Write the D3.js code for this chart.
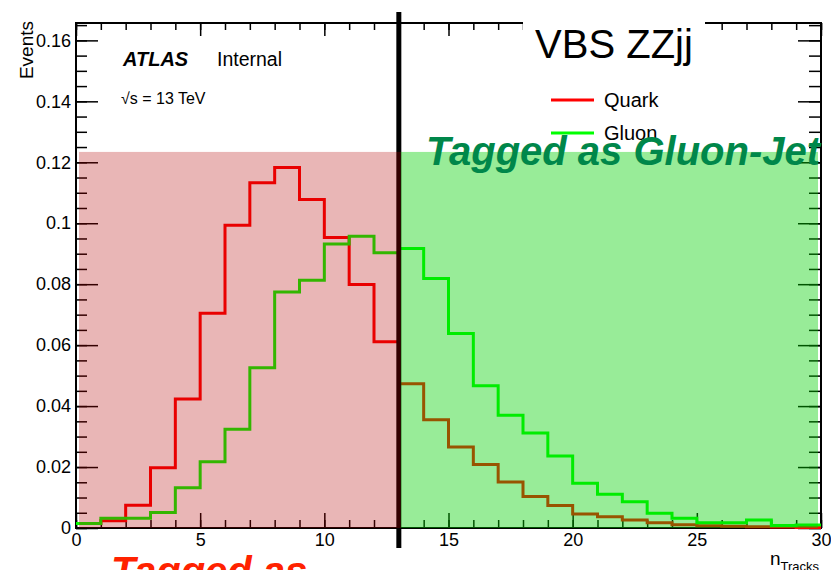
<!DOCTYPE html>
<html>
<head>
<meta charset="utf-8">
<script src="https://cdn.jsdelivr.net/npm/d3@7"></script>
<style>
  body { margin: 0; background: #fff; }
  text { font-family: "Liberation Sans", Arial, Helvetica, sans-serif; }
</style>
</head>
<body>
<div id="chart"></div>
<script>
// n_Tracks distributions, one value per bin of width 1 from 0 to 30
const quark = [0.0015, 0.0024, 0.0075, 0.0198, 0.0423, 0.0705, 0.0993, 0.1133, 0.1183, 0.1078,
               0.0953, 0.0799, 0.0611, 0.0473, 0.0355, 0.0266, 0.0208, 0.0151, 0.0103, 0.0074,
               0.0046, 0.0037, 0.0026, 0.0017, 0.0011, 0.0007, 0.0006, 0.0004, 0.0003, 0.0002]
const gluon = [0.0015, 0.0032, 0.0032, 0.0051, 0.0132, 0.0217, 0.0324, 0.0526, 0.0774, 0.0813,
               0.0932, 0.0957, 0.0903, 0.0917, 0.0819, 0.0638, 0.0467, 0.0370, 0.0312, 0.0236,
               0.0147, 0.0111, 0.0086, 0.0048, 0.0032, 0.0017, 0.0017, 0.0026, 0.0008, 0.0010]
const xTicks = [0, 5, 10, 15, 20, 25, 30]
const yTicks = [0, 0.02, 0.04, 0.06, 0.08, 0.1, 0.12, 0.14, 0.16]
const cut = 13          // tagging threshold
const bandTop = 0.1234  // height of the shaded bands
const series = [
  { name: "Quark", values: quark, color: "#ff0000" },
  { name: "Gluon", values: gluon, color: "#00ff00" },
]

const width = 831
const height = 570
const plotLeft = 76, plotRight = 821, plotTop = 23, plotBottom = 528

const x = d3.scaleLinear().domain([0, 30]).range([plotLeft, plotRight])
const y = d3.scaleLinear().domain([0, 0.1657]).range([plotBottom, plotTop])

const svg = d3.select("#chart")
  .append("svg")
  .attr("width", width)
  .attr("height", height)

// axes: minor ticks first, then majors with labels
const yFmt = d => String(+d.toFixed(2))

svg.append("g")
  .attr("transform", `translate(${plotLeft} 0)`)
  .call(d3.axisLeft(y).tickValues(d3.range(0, 0.166, 0.005)).tickSizeInner(-11).tickSizeOuter(0).tickFormat(""))
svg.append("g")
  .attr("class", "y-axis")
  .attr("transform", `translate(${plotLeft} 0)`)
  .call(d3.axisLeft(y).tickValues(yTicks).tickSizeInner(-22).tickSizeOuter(0).tickPadding(5).tickFormat(yFmt))

svg.append("g")
  .attr("transform", `translate(${plotRight} 0)`)
  .call(d3.axisRight(y).tickValues(d3.range(0, 0.166, 0.005)).tickSizeInner(-12).tickSizeOuter(0).tickFormat(""))
svg.append("g")
  .attr("transform", `translate(${plotRight} 0)`)
  .call(d3.axisRight(y).tickValues(yTicks).tickSizeInner(-23).tickSizeOuter(0).tickFormat(""))

svg.append("g")
  .attr("transform", `translate(0 ${plotBottom})`)
  .call(d3.axisBottom(x).ticks(30).tickSizeInner(-8).tickSizeOuter(0).tickFormat(""))
svg.append("g")
  .attr("class", "x-axis")
  .attr("transform", `translate(0 ${plotBottom})`)
  .call(d3.axisBottom(x).tickValues(xTicks).tickSizeInner(-15).tickSizeOuter(0).tickPadding(5).tickFormat(d3.format("d")))

svg.append("g")
  .attr("transform", `translate(0 ${plotTop})`)
  .call(d3.axisTop(x).ticks(30).tickSizeInner(-7).tickSizeOuter(0).tickFormat(""))
svg.append("g")
  .attr("transform", `translate(0 ${plotTop})`)
  .call(d3.axisTop(x).tickValues(xTicks).tickSizeInner(-13).tickSizeOuter(0).tickFormat(""))

svg.selectAll(".domain").remove()
svg.selectAll(".tick line").attr("stroke", "#000").attr("stroke-width", 1.5)
svg.selectAll(".y-axis text, .x-axis text")
  .attr("font-size", 18)
  .attr("fill", "#000")
  .attr("font-family", "Liberation Sans, Arial, sans-serif")

// frame
svg.append("rect")
  .attr("x", plotLeft).attr("y", plotTop)
  .attr("width", plotRight - plotLeft).attr("height", plotBottom - plotTop)
  .attr("fill", "none").attr("stroke", "#000").attr("stroke-width", 2)

// histograms (step lines)
const line = d3.line()
  .x(d => x(d[0]))
  .y(d => y(d[1]))
  .curve(d3.curveStepAfter)

svg.append("g")
  .selectAll("path")
  .data(series)
  .join("path")
  .attr("d", d => line(d.values.map((v, i) => [i, v]).concat([[30, d.values[d.values.length - 1]]])))
  .attr("fill", "none")
  .attr("stroke", d => d.color)
  .attr("stroke-width", 3)

// cut line
svg.append("line")
  .attr("x1", x(cut)).attr("x2", x(cut))
  .attr("y1", 12).attr("y2", 548)
  .attr("stroke", "#000").attr("stroke-width", 5)

// shaded tagging bands drawn over the histograms
svg.append("rect")
  .attr("x", x(0) + 3).attr("y", y(bandTop))
  .attr("width", x(cut) - x(0) - 1).attr("height", y(0) - y(bandTop))
  .attr("fill", "rgb(178,0,0)").attr("fill-opacity", 0.286)
svg.append("rect")
  .attr("x", x(cut) + 2).attr("y", y(bandTop))
  .attr("width", x(30) - x(cut) - 5).attr("height", y(0) - y(bandTop))
  .attr("fill", "rgb(0,208,0)").attr("fill-opacity", 0.404)

// title box covering the top frame
svg.append("rect")
  .attr("x", 523).attr("y", 8).attr("width", 182).attr("height", 62)
  .attr("fill", "#fff")
svg.append("text")
  .attr("x", 614).attr("y", 58)
  .attr("text-anchor", "middle")
  .attr("font-size", 40)
  .text("VBS ZZjj")

// ATLAS label
svg.append("text")
  .attr("x", 123).attr("y", 66)
  .attr("font-size", 20).attr("font-weight", "bold").attr("font-style", "italic")
  .text("ATLAS")
svg.append("text")
  .attr("x", 217).attr("y", 66)
  .attr("font-size", 19.5)
  .text("Internal")
svg.append("text")
  .attr("x", 121).attr("y", 104)
  .attr("font-size", 16)
  .text("\u221As = 13 TeV")

// legend
const legend = svg.append("g")
  .selectAll("g")
  .data(series)
  .join("g")
  .attr("transform", (d, i) => `translate(551 ${100 + i * 33})`)
legend.append("line")
  .attr("x1", 0).attr("x2", 43)
  .attr("stroke", d => d.color).attr("stroke-width", 3)
legend.append("text")
  .attr("x", 53).attr("y", 7)
  .attr("font-size", 20)
  .text(d => d.name)

// axis titles
svg.append("text")
  .attr("transform", "translate(33 21) rotate(-90)")
  .attr("text-anchor", "end")
  .attr("font-size", 19)
  .text("Events")
svg.append("text")
  .attr("x", 770).attr("y", 565)
  .attr("font-size", 19)
  .text("n")
  .append("tspan")
  .attr("dy", 6)
  .attr("font-size", 13)
  .text("Tracks")

// tagging annotations
svg.append("text")
  .attr("x", 426).attr("y", 165)
  .attr("font-size", 40).attr("font-weight", "bold").attr("font-style", "italic")
  .attr("fill", "#00874a")
  .text("Tagged as Gluon-Jet")
svg.append("text")
  .attr("x", 111).attr("y", 585)
  .attr("font-size", 40).attr("font-weight", "bold").attr("font-style", "italic")
  .attr("fill", "#ff2200")
  .text("Tagged as")
</script>
</body>
</html>
